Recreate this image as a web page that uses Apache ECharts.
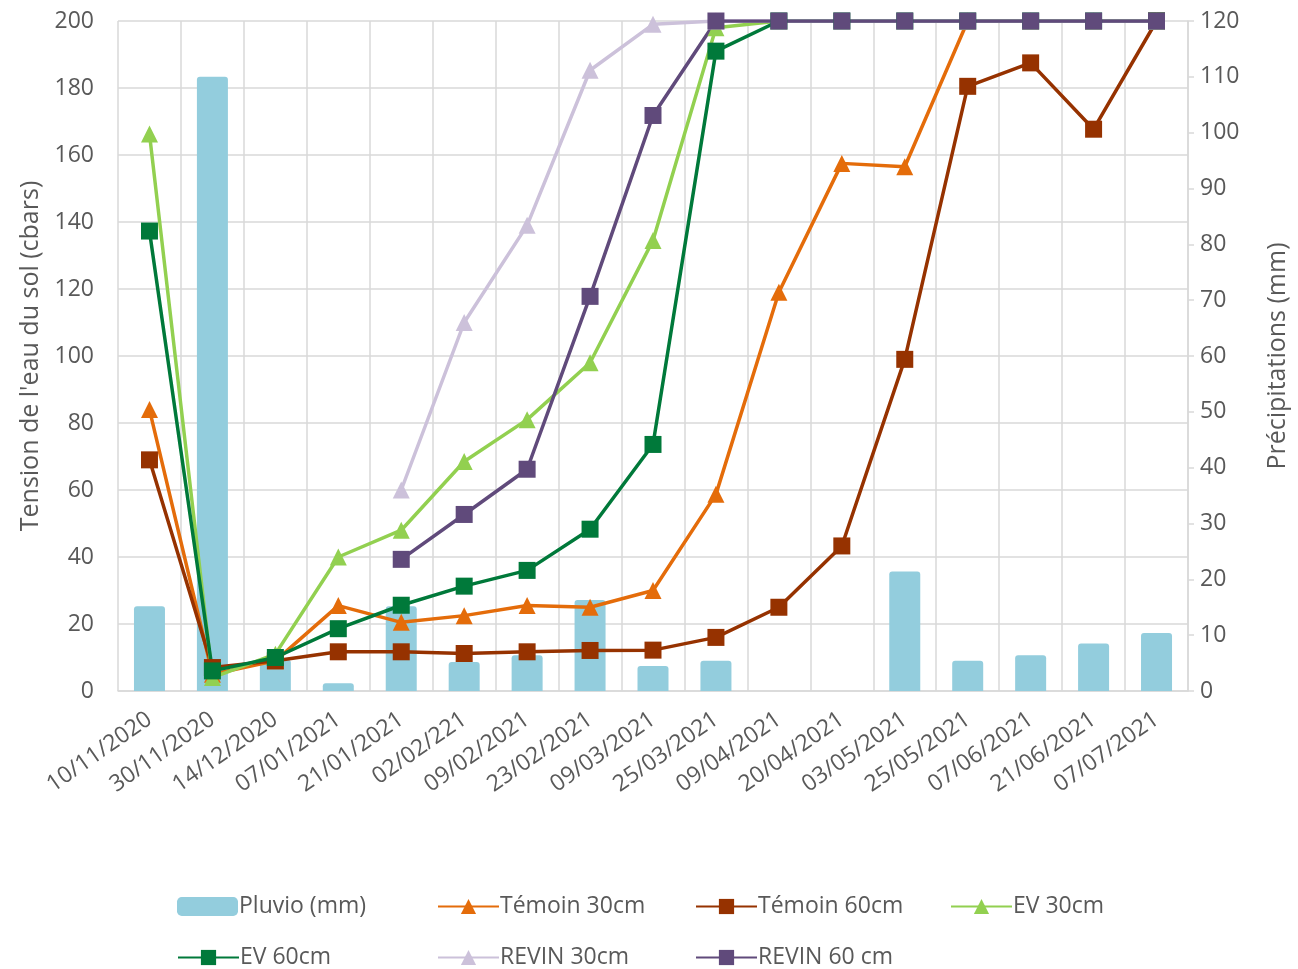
<!DOCTYPE html>
<html>
<head>
<meta charset="utf-8">
<script src="https://cdn.jsdelivr.net/npm/echarts@6/dist/echarts.min.js"></script>
<style>
  html, body { margin: 0; padding: 0; background: #fff; }
  #chart { width: 1298px; height: 969px; }
</style>
</head>
<body>
<div id="chart"></div>
<script>
// dates of the readings
const categories = ['10/11/2020', '30/11/2020', '14/12/2020', '07/01/2021', '21/01/2021', '02/02/221',
  '09/02/2021', '23/02/2021', '09/03/2021', '25/03/2021', '09/04/2021', '20/04/2021',
  '03/05/2021', '25/05/2021', '07/06/2021', '21/06/2021', '07/07/2021'];

// rainfall (mm), right axis
const pluvio = [15.2, 110, 5.6, 1.4, 15.2, 5.2, 6.4, 16.3, 4.5, 5.4, null, null, 21.4, 5.4, 6.4, 8.5, 10.4];

// soil water tension (cbars), left axis
const temoin30 = [84, 5, 9, 25.5, 20.5, 22.5, 25.5, 25, 30, 58.7, 119, 157.5, 156.5, 200, 200, 200, 200];
const temoin60 = [69, 7, 9, 11.7, 11.7, 11.2, 11.7, 12.1, 12.2, 16, 25, 43.3, 99, 180.5, 187.5, 167.7, 200];
const ev30 = [166.3, 4, 11, 40, 48, 68.5, 81, 98, 134.5, 198, 200, 200, 200, 200, 200, 200, 200];
const ev60 = [137.3, 6, 10, 18.6, 25.6, 31.3, 36, 48.3, 73.6, 191, 200, 200, 200, 200, 200, 200, 200];
const revin30 = [null, null, null, null, 60, 110, 139, 185.3, 199, 200, 200, 200, 200, 200, 200, 200, 200];
const revin60 = [null, null, null, null, 39.3, 52.7, 66.2, 117.8, 171.8, 200, 200, 200, 200, 200, 200, 200, 200];

const font = '"Open Sans", sans-serif';
const textColor = '#595959';
const gridColor = '#d9d9d9';

const lineSeries = (name, data, color, symbol) => ({
  name: name,
  type: 'line',
  yAxisIndex: 0,
  data: data,
  symbol: symbol,
  symbolSize: 17,
  lineStyle: { color: color, width: 3.5 },
  itemStyle: { color: color },
  connectNulls: false
});

// legend slots (two rows, four columns)
const legendItems = ['Pluvio (mm)', 'Témoin 30cm', 'Témoin 60cm', 'EV 30cm', 'EV 60cm', 'REVIN 30cm', 'REVIN 60 cm'];
const legendSlots = [[172, 890], [432, 890], [690, 890], [945, 890], [172, 941], [432, 941], [690, 941]];

const chart = echarts.init(document.getElementById('chart'));

chart.setOption({
  backgroundColor: '#fff',
  animation: false,
  textStyle: { fontFamily: font },
  grid: { left: 118, right: 110, top: 21, bottom: 278 },
  legend: legendItems.map((name, i) => ({
    data: [name],
    left: legendSlots[i][0],
    top: legendSlots[i][1],
    itemWidth: 61,
    itemHeight: 19,
    itemGap: 4,
    textStyle: { color: textColor, fontSize: 23, fontFamily: font, padding: [0, 0, 0, -4] }
  })),
  xAxis: {
    type: 'category',
    data: categories,
    boundaryGap: true,
    axisLine: { lineStyle: { color: gridColor, width: 1.5 } },
    axisTick: { show: false },
    splitLine: { show: true, lineStyle: { color: gridColor, width: 1.5 } },
    axisLabel: { rotate: 35, color: textColor, fontSize: 23, margin: 26, interval: 0 }
  },
  yAxis: [
    {
      type: 'value',
      min: 0, max: 200, interval: 20,
      name: "Tension de l'eau du sol (cbars)",
      nameLocation: 'middle',
      nameGap: 75,
      nameTextStyle: { color: textColor, fontSize: 25 },
      axisLine: { show: false },
      axisTick: { show: false },
      splitLine: { lineStyle: { color: gridColor, width: 1.5 } },
      axisLabel: { color: textColor, fontSize: 23, margin: 24 }
    },
    {
      type: 'value',
      min: 0, max: 120, interval: 10,
      name: 'Précipitations (mm)',
      nameLocation: 'middle',
      nameGap: 77,
      nameRotate: 90,
      nameTextStyle: { color: textColor, fontSize: 25 },
      axisLine: { show: true, lineStyle: { color: gridColor, width: 1.5 } },
      axisTick: { show: true, length: 6, lineStyle: { color: gridColor, width: 1.5 } },
      splitLine: { show: false },
      axisLabel: { color: textColor, fontSize: 23, margin: 12 }
    }
  ],
  series: [
    {
      name: 'Pluvio (mm)',
      type: 'bar',
      yAxisIndex: 1,
      data: pluvio,
      barWidth: 31,
      itemStyle: { color: '#93cddd', borderRadius: [3, 3, 0, 0] }
    },
    lineSeries('Témoin 30cm', temoin30, '#e46c0a', 'triangle'),
    lineSeries('Témoin 60cm', temoin60, '#963200', 'rect'),
    lineSeries('EV 30cm', ev30, '#92d050', 'triangle'),
    lineSeries('EV 60cm', ev60, '#00793a', 'rect'),
    lineSeries('REVIN 30cm', revin30, '#ccc1da', 'triangle'),
    lineSeries('REVIN 60 cm', revin60, '#604a7b', 'rect')
  ]
});
</script>
</body>
</html>
